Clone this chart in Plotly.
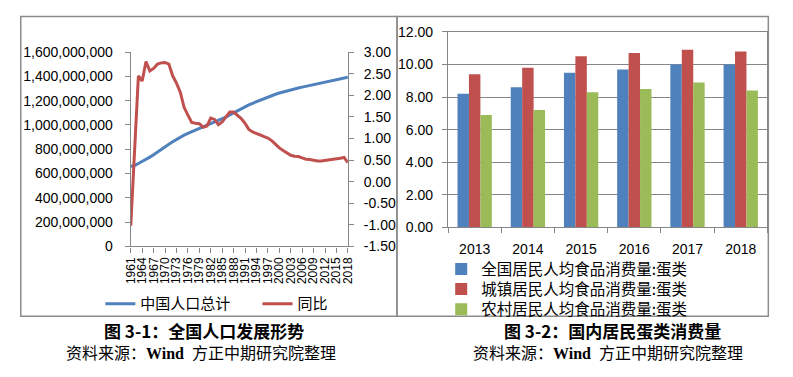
import plotly.graph_objects as go

# ---------------- data ----------------
years = list(range(1961, 2019))
population = [
    660330000, 665770000, 682335000, 698355000, 715185000, 735400000, 754550000, 774510000,
    796025000, 818315000, 841105000, 862030000, 881940000, 900350000, 916395000, 930685000,
    943455000, 956165000, 969005000, 981235000, 993885000, 1008630000, 1023310000, 1036825000,
    1051040000, 1066790000, 1084035000, 1101630000, 1118650000, 1135185000, 1150780000, 1164970000,
    1178440000, 1191835000, 1204855000, 1217550000, 1230075000, 1241935000, 1252735000, 1262645000,
    1271850000, 1280400000, 1288400000, 1296075000, 1303720000, 1311020000, 1317885000, 1324655000,
    1331260000, 1337705000, 1344130000, 1350695000, 1357380000, 1364270000, 1371220000, 1378665000,
    1386395000, 1392730000,
]
growth = [
    -1.02, 0.82, 2.45, 2.33, 2.78, 2.56, 2.62, 2.72, 2.75, 2.76, 2.72, 2.45, 2.28, 2.07, 1.72,
    1.54, 1.37, 1.35, 1.34, 1.26, 1.29, 1.47, 1.44, 1.32, 1.38, 1.50, 1.61, 1.61, 1.53, 1.46,
    1.35, 1.21, 1.15, 1.12, 1.08, 1.04, 1.01, 0.95, 0.86, 0.78, 0.72, 0.66, 0.61, 0.59, 0.58,
    0.55, 0.52, 0.51, 0.49, 0.48, 0.48, 0.49, 0.50, 0.51, 0.53, 0.54, 0.56, 0.44,
]
year_ticks = list(range(1961, 2019, 3))

pop_ticks = [0, 200000000, 400000000, 600000000, 800000000, 1000000000, 1200000000, 1400000000, 1600000000]
growth_ticks = [-1.5, -1.0, -0.5, 0.0, 0.5, 1.0, 1.5, 2.0, 2.5, 3.0]
growth_tick_text = ["-1.50", "-1.00", "-0.50", "0.00", "0.50", "1.00", "1.50", "2.00", "2.50", "3.00"]

bar_years = ["2013", "2014", "2015", "2016", "2017", "2018"]
egg_national = [8.2, 8.6, 9.5, 9.7, 10.0, 10.0]
egg_urban = [9.4, 9.8, 10.5, 10.7, 10.9, 10.8]
egg_rural = [6.9, 7.2, 8.3, 8.5, 8.9, 8.4]

name_pop = "中国人口总计"
name_growth = "同比"
name_nat = "全国居民人均食品消费量:蛋类"
name_urb = "城镇居民人均食品消费量:蛋类"
name_rur = "农村居民人均食品消费量:蛋类"

caption1 = "<b>图 3-1：全国人口发展形势</b>"
caption2 = "<b>图 3-2：国内居民蛋类消费量</b>"
source = "资料来源：<b>Wind</b>  方正中期研究院整理"

# ---------------- style ----------------
W, H = 793, 377
BLUE, RED, GREEN = "#4F81BD", "#C0504D", "#9BBB59"
AX = "#868686"
NUMFONT = dict(family="Liberation Sans, Arial, sans-serif", size=14, color="#000000")
CJK = "Noto Sans CJK SC, sans-serif"

def px(x):
    return x / W

def py(y):
    return 1 - y / H

fig = go.Figure()

fig.add_trace(go.Scatter(x=years, y=population, mode="lines", name=name_pop, showlegend=True,
                         line=dict(color=BLUE, width=3), xaxis="x", yaxis="y", legend="legend"))
fig.add_trace(go.Scatter(x=years, y=growth, mode="lines", name=name_growth, showlegend=True,
                         line=dict(color=RED, width=3), xaxis="x", yaxis="y2", legend="legend2"))

fig.add_trace(go.Bar(x=bar_years, y=egg_national, name=name_nat, showlegend=True,
                     marker=dict(color=BLUE, line=dict(width=0)),
                     xaxis="x2", yaxis="y3", legend="legend3"))
fig.add_trace(go.Bar(x=bar_years, y=egg_urban, name=name_urb, showlegend=True,
                     marker=dict(color=RED, line=dict(width=0)),
                     xaxis="x2", yaxis="y3", legend="legend4"))
fig.add_trace(go.Bar(x=bar_years, y=egg_rural, name=name_rur, showlegend=True,
                     marker=dict(color=GREEN, line=dict(width=0)),
                     xaxis="x2", yaxis="y3", legend="legend5"))

leg_common = dict(bgcolor="rgba(0,0,0,0)", borderwidth=0, xanchor="left", yanchor="middle",
                  orientation="v", itemclick=False, itemdoubleclick=False)
LEGFONT_L = dict(family=CJK, size=15, color="#000000")
LEGFONT_R = dict(family=CJK, size=15.5, color="#000000")

fig.update_layout(
    width=W, height=H,
    margin=dict(l=0, r=0, t=0, b=0),
    paper_bgcolor="white", plot_bgcolor="white",
    showlegend=True,
    barmode="group", bargap=0.355, bargroupgap=0,
    font=dict(family=CJK, color="#000000"),
    xaxis=dict(
        domain=[px(126), px(347)], anchor="y", range=[1961, 2018],
        tickmode="array", tickvals=year_ticks, ticktext=[str(v) for v in year_ticks],
        tickangle=-90, ticks="outside", ticklen=5, tickcolor=AX,
        showline=True, linecolor=AX, linewidth=1.3, showgrid=False, zeroline=False,
        tickfont=dict(family="Liberation Sans, Arial, sans-serif", size=12, color="#000000"),
        ticklabelstandoff=0,
    ),
    yaxis=dict(
        domain=[py(249), py(46)], anchor="x", range=[0, 1600000000],
        tickmode="array", tickvals=pop_ticks, tickformat=",d",
        ticks="outside", ticklen=5, tickcolor=AX,
        showline=True, linecolor=AX, linewidth=1.3, showgrid=False, zeroline=False,
        tickfont=NUMFONT, ticklabelstandoff=9,
    ),
    yaxis2=dict(
        overlaying="y", side="right", anchor="x", range=[-1.5, 3.0],
        tickmode="array", tickvals=growth_ticks, ticktext=growth_tick_text,
        ticks="outside", ticklen=5, tickcolor=AX,
        showline=True, linecolor=AX, linewidth=1.3, showgrid=False, zeroline=False,
        tickfont=NUMFONT, ticklabelstandoff=7,
    ),
    xaxis2=dict(
        domain=[px(449), px(774)], anchor="y3", type="category",
        ticks="outside", ticklen=5, tickcolor=AX, tickson="boundaries",
        showline=True, linecolor=AX, linewidth=1.3, mirror=True, showgrid=False, zeroline=False,
        tickfont=NUMFONT, ticklabelstandoff=9,
    ),
    yaxis3=dict(
        domain=[py(229), py(25)], anchor="x2", range=[0, 12],
        tickmode="array", tickvals=[0, 2, 4, 6, 8, 10, 12], tickformat=".2f",
        ticks="outside", ticklen=5, tickcolor=AX,
        showline=True, linecolor=AX, linewidth=1.3, mirror=True,
        showgrid=True, gridcolor=AX, gridwidth=1, zeroline=False,
        tickfont=NUMFONT, ticklabelstandoff=6,
    ),
    legend=dict(leg_common, x=px(95), y=py(309), font=LEGFONT_L),
    legend2=dict(leg_common, x=px(255), y=py(309), font=LEGFONT_L),
    legend3=dict(leg_common, x=px(442), y=py(273), font=LEGFONT_R),
    legend4=dict(leg_common, x=px(442), y=py(294), font=LEGFONT_R),
    legend5=dict(leg_common, x=px(442), y=py(315), font=LEGFONT_R),
    shapes=[
        dict(type="rect", xref="paper", yref="paper", x0=px(14), x1=px(397), y0=py(322), y1=py(9),
             line=dict(color="#8c8c8c", width=1.5), fillcolor="rgba(0,0,0,0)", layer="below"),
        dict(type="rect", xref="paper", yref="paper", x0=px(397), x1=px(775), y0=py(322), y1=py(9),
             line=dict(color="#8c8c8c", width=1.5), fillcolor="rgba(0,0,0,0)", layer="below"),
    ],
    annotations=[
        dict(text=caption1, xref="paper", yref="paper", x=px(201), y=py(337), showarrow=False,
             xanchor="center", yanchor="middle", font=dict(family=CJK, size=17, color="#000000")),
        dict(text=source, xref="paper", yref="paper", x=px(197), y=py(361), showarrow=False,
             xanchor="center", yanchor="middle",
             font=dict(family="Liberation Serif, Noto Sans CJK SC, serif", size=16, color="#000000")),
        dict(text=caption2, xref="paper", yref="paper", x=px(616), y=py(337), showarrow=False,
             xanchor="center", yanchor="middle", font=dict(family=CJK, size=17, color="#000000")),
        dict(text=source, xref="paper", yref="paper", x=px(612), y=py(361), showarrow=False,
             xanchor="center", yanchor="middle",
             font=dict(family="Liberation Serif, Noto Sans CJK SC, serif", size=16, color="#000000")),
    ],
)

fig.write_html("out.html", include_plotlyjs=True,
               config={"displayModeBar": False},
               post_script="document.body.style.margin='0';document.body.style.padding='0';")
